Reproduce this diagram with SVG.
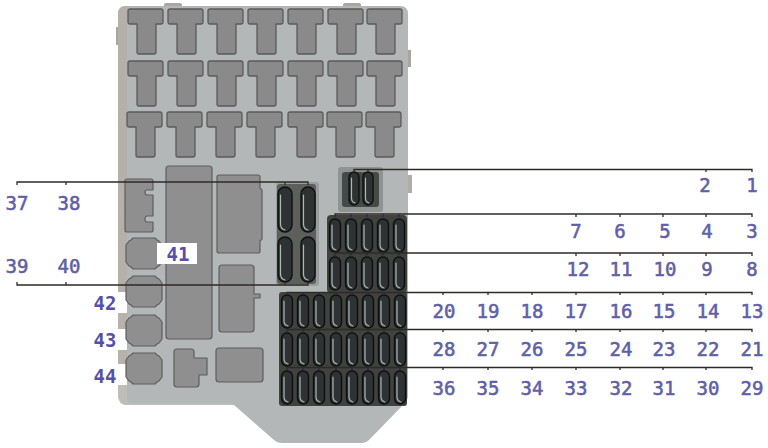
<svg xmlns="http://www.w3.org/2000/svg" xmlns:xlink="http://www.w3.org/1999/xlink" width="768" height="448" viewBox="0 0 768 448">
<style>
.part{fill:#8f8f8f;stroke:#5e5e5e;stroke-width:1.2;stroke-linejoin:round}
.t{fill:#8a8a8a;stroke:#5a5a5a;stroke-width:1.3;stroke-linejoin:round}
.wire{fill:none;stroke:#2e2a26;stroke-width:1.3}
.num{font-family:"DejaVu Sans Mono","Liberation Mono",monospace;font-size:19px;fill:#625fa6;stroke:#625fa6;stroke-width:.55;text-anchor:middle}
.bold{font-weight:bold;font-size:19px;fill:#5650a8;stroke:none}
.hi{fill:none;stroke:#a9bab6;stroke-width:1.2;stroke-linecap:round}
.slot{fill:#2f3231;stroke:#0f1110;stroke-width:1.4}
.soft{filter:url(#soft)}
</style>
<defs>
<filter id="soft" x="-2%" y="-2%" width="104%" height="104%"><feGaussianBlur stdDeviation="0.45"/></filter>
<path id="tee" d="M2 0H33Q35 0 35 2V13Q35 15 33 15H28V43Q28 45 26 45H11Q9 45 9 43V15H2Q0 15 0 13V2Q0 0 2 0Z"/>
<path id="oct" d="M7 0H29L31 2L33 3L36 7V24L33 28L31 29L29 31H7L5 29L3 28L0 24V7L3 3L5 2Z"/>
<g id="s11"><rect class="slot" x="-5.500" y="0" width="11" height="33" rx="5.500"/><path class="hi" d="M-3 6V26Q-3 30 1 31"/></g>
<g id="s10"><rect class="slot" x="-5" y="0" width="10" height="33" rx="5"/><path class="hi" d="M-2.500 6V26Q-2.500 30 1 31"/></g>
<g id="s15"><rect class="slot" x="-7" y="0" width="14" height="45" rx="7"/><path class="hi" d="M-4.500 8V37Q-4.500 42 0 43"/></g>
</defs>
<rect width="768" height="448" fill="#fff"/>

<g id="housing" class="soft">
<rect x="116" y="27" width="4" height="18" rx="1" fill="#aaa69f"/>
<rect x="408" y="50" width="3" height="17" fill="#aaa69f"/>
<rect x="408" y="175" width="4" height="18" fill="#b0aca6"/>
<rect x="164" y="3" width="18" height="5" rx="2" fill="#aaa69f"/>
<rect x="343" y="3" width="18" height="5" rx="2" fill="#aaa69f"/>
<path d="M126 6H400Q408 6 408 14V396Q408 400 404 404L369 440Q366 443 362 443H282Q277 443 274 440L234 405H128Q118 405 118 395V14Q118 6 126 6Z" fill="#b4b7b8"/>
<path d="M126 6H130Q127 8 127 14V385H118V14Q118 6 126 6Z" fill="#b5b1aa"/>
<path d="M118 385V395Q118 405 128 405H234L231 403H130Q127 403 127 395V385Z" fill="#bfbdb8"/>
</g>

<g id="fuse-sockets" class="t soft">
<use xlink:href="#tee" x="128" y="9"/><use xlink:href="#tee" x="168" y="9"/><use xlink:href="#tee" x="208" y="9"/><use xlink:href="#tee" x="248" y="9"/><use xlink:href="#tee" x="288" y="9"/><use xlink:href="#tee" x="328" y="9"/><use xlink:href="#tee" x="367" y="9"/>
<use xlink:href="#tee" x="128" y="61"/><use xlink:href="#tee" x="168" y="61"/><use xlink:href="#tee" x="208" y="61"/><use xlink:href="#tee" x="248" y="61"/><use xlink:href="#tee" x="288" y="61"/><use xlink:href="#tee" x="328" y="61"/><use xlink:href="#tee" x="367" y="61"/>
<use xlink:href="#tee" x="127" y="112"/><use xlink:href="#tee" x="167" y="112"/><use xlink:href="#tee" x="207" y="112"/><use xlink:href="#tee" x="247" y="112"/><use xlink:href="#tee" x="288" y="112"/><use xlink:href="#tee" x="327" y="112"/><use xlink:href="#tee" x="366" y="112"/>
</g>

<g id="relay-blocks" class="soft">
<path class="part" d="M127 179H151Q153 179 153 181V190H147Q145 190 145 192Q145 195 147 195H153V216H147Q145 216 145 219Q145 222 147 222H153V230Q153 232 151 232H127Q125 232 125 230V181Q125 179 127 179Z"/>
<rect class="part" x="166" y="166" width="46" height="173" rx="3"/>
<path class="part" d="M219 175H258Q260 175 260 177V188L262 190V239L260 241V251Q260 253 258 253H219Q217 253 217 251V177Q217 175 219 175Z"/>
<path class="part" d="M222 265H251Q254 265 254 268V294H260V298H254V329Q254 332 251 332H222Q219 332 219 329V268Q219 265 222 265Z"/>
<path class="part" d="M177 349H191Q194 349 194 352V358H207V375H199V384Q199 387 196 387H177Q174 387 174 384V352Q174 349 177 349Z"/>
<rect class="part" x="216" y="348" width="47" height="34" rx="3"/>
</g>

<g id="left-labels-clear" fill="#fff">
<rect x="92" y="292" width="35" height="21"/>
<rect x="92" y="329" width="35" height="21"/>
<rect x="92" y="364" width="35" height="21"/>
</g>
<g id="left-tabs" fill="#b7b3ac">
<rect x="118" y="313" width="8" height="16"/>
<rect x="118" y="350" width="8" height="14"/>
</g>

<g id="connector-41" class="soft"><use xlink:href="#oct" class="part" x="126" y="238"/></g>
<g id="connector-42" class="soft"><use xlink:href="#oct" class="part" x="126" y="276"/></g>
<g id="connector-43" class="soft"><use xlink:href="#oct" class="part" x="126" y="315"/></g>
<g id="connector-44" class="soft"><use xlink:href="#oct" class="part" x="126" y="353"/></g>
<rect x="157" y="243" width="40" height="21" fill="#fff"/>

<g id="panel-1-2" class="soft">
<rect x="338" y="167" width="45" height="45" rx="3" fill="#8f9392"/>
<rect x="342" y="172" width="37" height="35" rx="3" fill="#454a47"/>
<use xlink:href="#s10" x="354" y="172"/><use xlink:href="#s10" x="368" y="172"/>
</g>
<g id="panel-37-40" class="soft">
<rect x="276" y="182" width="43" height="104" rx="3" fill="#9a9d9d"/>
<rect x="277" y="184" width="39" height="100" rx="3" fill="#5b5e5c"/>
<use xlink:href="#s15" x="285" y="187"/><use xlink:href="#s15" x="308" y="187"/>
<use xlink:href="#s15" x="285" y="237"/><use xlink:href="#s15" x="308" y="237"/>
</g>
<g id="panel-3-12" class="soft">
<rect x="327" y="215" width="80" height="78" rx="4" fill="#3f4341"/>
<use xlink:href="#s11" x="335" y="219"/><use xlink:href="#s11" x="351" y="219"/><use xlink:href="#s11" x="367" y="219"/><use xlink:href="#s11" x="383" y="219"/><use xlink:href="#s11" x="399" y="219"/>
<use xlink:href="#s11" x="335" y="257"/><use xlink:href="#s11" x="351" y="257"/><use xlink:href="#s11" x="367" y="257"/><use xlink:href="#s11" x="383" y="257"/><use xlink:href="#s11" x="399" y="257"/>
</g>
<g id="panel-13-36" class="soft">
<rect x="279" y="292" width="128" height="114" rx="3" fill="#3f4341"/>
<use xlink:href="#s11" x="287" y="295"/><use xlink:href="#s11" x="303" y="295"/><use xlink:href="#s11" x="319" y="295"/><use xlink:href="#s11" x="336" y="295"/><use xlink:href="#s11" x="352" y="295"/><use xlink:href="#s11" x="368" y="295"/><use xlink:href="#s11" x="384" y="295"/><use xlink:href="#s11" x="400" y="295"/>
<use xlink:href="#s11" x="287" y="333"/><use xlink:href="#s11" x="303" y="333"/><use xlink:href="#s11" x="319" y="333"/><use xlink:href="#s11" x="336" y="333"/><use xlink:href="#s11" x="352" y="333"/><use xlink:href="#s11" x="368" y="333"/><use xlink:href="#s11" x="384" y="333"/><use xlink:href="#s11" x="400" y="333"/>
<use xlink:href="#s11" x="287" y="371"/><use xlink:href="#s11" x="303" y="371"/><use xlink:href="#s11" x="319" y="371"/><use xlink:href="#s11" x="336" y="371"/><use xlink:href="#s11" x="352" y="371"/><use xlink:href="#s11" x="368" y="371"/><use xlink:href="#s11" x="384" y="371"/><use xlink:href="#s11" x="400" y="371"/>
</g>

<g id="connectors" class="wire">
<path d="M17 185V182H308V185M66 182V185M285 182V185"/>
<path d="M17 282V285H308V282M66 285V282M285 285V282"/>
<path d="M354 172V169.500H752V172M368 169.500V172M706 169.500V172"/>
<path d="M335 217V214H752V217M351 214V217M367 214V217M383 214V217M399 214V217M576 214V217M620 214V217M663 214V217M706 214V217"/>
<path d="M335 256V253H752V256M351 253V256M367 253V256M383 253V256M399 253V256M576 253V256M620 253V256M663 253V256M706 253V256"/>
<path d="M287 295V292.500H752V295M303 292.500V295M319 292.500V295M336 292.500V295M352 292.500V295M368 292.500V295M384 292.500V295M400 292.500V295M443 292.500V295M488 292.500V295M532 292.500V295M576 292.500V295M620 292.500V295M663 292.500V295M706 292.500V295"/>
<path d="M287 332V329.500H752V332M303 329.500V332M319 329.500V332M336 329.500V332M352 329.500V332M368 329.500V332M384 329.500V332M400 329.500V332M443 329.500V332M488 329.500V332M532 329.500V332M576 329.500V332M620 329.500V332M663 329.500V332M706 329.500V332"/>
<path d="M287 370V367.500H752V370M303 367.500V370M319 367.500V370M336 367.500V370M352 367.500V370M368 367.500V370M384 367.500V370M400 367.500V370M443 367.500V370M488 367.500V370M532 367.500V370M576 367.500V370M620 367.500V370M663 367.500V370M706 367.500V370"/>
</g>

<g id="labels" class="num">
<text x="705" y="192">2</text><text x="752" y="192">1</text>
<text x="576" y="238">7</text><text x="620" y="238">6</text><text x="665" y="238">5</text><text x="707" y="238">4</text><text x="752" y="238">3</text>
<text x="578" y="276">12</text><text x="621" y="276">11</text><text x="665" y="276">10</text><text x="707" y="276">9</text><text x="752" y="276">8</text>
<text x="444" y="318">20</text><text x="488" y="318">19</text><text x="532" y="318">18</text><text x="576" y="318">17</text><text x="621" y="318">16</text><text x="664" y="318">15</text><text x="708" y="318">14</text><text x="752" y="318">13</text>
<text x="444" y="356">28</text><text x="488" y="356">27</text><text x="532" y="356">26</text><text x="576" y="356">25</text><text x="621" y="356">24</text><text x="664" y="356">23</text><text x="708" y="356">22</text><text x="752" y="356">21</text>
<text x="444" y="395">36</text><text x="488" y="395">35</text><text x="532" y="395">34</text><text x="576" y="395">33</text><text x="621" y="395">32</text><text x="664" y="395">31</text><text x="708" y="395">30</text><text x="752" y="395">29</text>
<text x="17" y="210">37</text><text x="69" y="210">38</text>
<text x="17" y="273">39</text><text x="69" y="273">40</text>
<text class="bold" x="178" y="261">41</text>
<text class="bold" x="105" y="310">42</text>
<text class="bold" x="105" y="347">43</text>
<text class="bold" x="105" y="383">44</text>
</g>
</svg>
